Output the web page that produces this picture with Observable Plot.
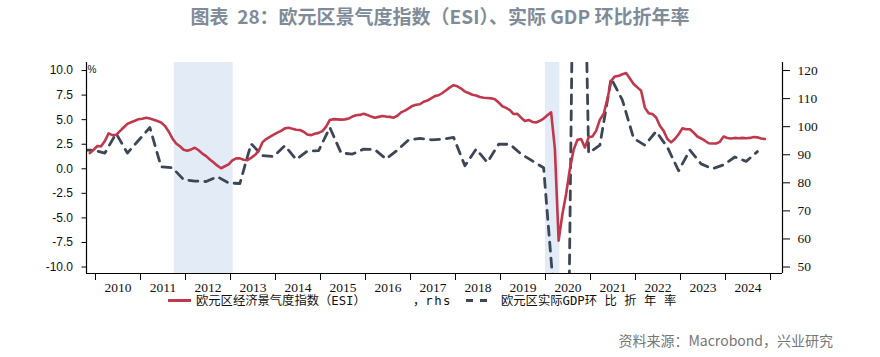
<!DOCTYPE html>
<html>
<head>
<meta charset="utf-8">
<script src="https://cdn.jsdelivr.net/npm/d3@7"></script>
<script src="https://cdn.jsdelivr.net/npm/@observablehq/plot@0.6"></script>
<style>
  html, body { margin: 0; padding: 0; background: #fff; }
  #page { position: relative; width: 880px; height: 357px; overflow: hidden; font-family: "Noto Sans CJK SC", sans-serif; }
  #title { position: absolute; left: 0; top: 0; width: 880px; height: 32px; line-height: 32px; text-align: center;
           font-size: 19px; font-weight: 700; color: #808b99; white-space: pre; }
  #chart { position: absolute; left: 0; top: 44px; }
  .lt { position: absolute; top: 292px; height: 18px; line-height: 18px; font-size: 12.3px; color: #111;
        font-family: "DejaVu Sans Mono", "Noto Sans CJK SC", monospace; white-space: pre; }
  .sw { position: absolute; height: 0; }
  #caption { position: absolute; right: 47px; top: 330px; line-height: 20px; font-size: 14px; color: #767676; }
</style>
</head>
<body>
<div id="page">
  <div id="title">图表  28：欧元区景气度指数（ESI）、实际 GDP 环比折年率</div>
  <div id="chart"></div>
  <span class="sw" style="left:168px; top:299px; width:23px; border-top:3px solid #c0384c;"></span>
  <span class="lt" style="left:196px;">欧元区经济景气度指数（ESI）</span>
  <span class="lt" style="left:413px;">，<span style="letter-spacing:1.5px">rhs</span></span>
  <span class="sw" style="left:466px; top:299px; width:7px; border-top:3px solid #3c4657;"></span>
  <span class="sw" style="left:480px; top:299px; width:7px; border-top:3px solid #3c4657;"></span>
  <span class="lt" style="left:501px;">欧元区实际GDP<span style="letter-spacing:7.5px">环比折年率</span></span>
  <div id="caption">资料来源：Macrobond，兴业研究</div>
</div>
<script>
// ---------- data ----------
// Euro area Economic Sentiment Indicator (right axis), monthly, from 2009-11 to 2024-11
const esiStart = "2009-11";
const esiValues = [
  90.6, 91.8,
  93.1, 93.0, 94.9, 97.6, 97.0, 97.1, 98.4, 99.7, 101.0, 101.6, 102.1, 102.7,
  102.8, 103.2, 102.9, 102.5, 102.0, 101.5, 100.3, 98.3, 95.8, 94.0, 93.0, 91.8,
  91.4, 91.9, 92.5, 91.6, 90.4, 89.5, 88.3, 87.2, 86.1, 85.2, 85.9, 86.6,
  88.0, 88.7, 88.7, 88.2, 88.1, 88.9, 89.9, 91.3, 94.4, 95.6, 96.4, 97.2,
  97.9, 98.5, 99.4, 99.6, 99.3, 98.9, 98.8, 98.2, 97.2, 97.0, 97.5, 97.8,
  98.4, 100.0, 102.4, 102.7, 102.6, 102.5, 102.6, 102.9, 103.6, 104.1, 104.2, 104.6,
  104.2, 103.6, 103.2, 103.5, 103.8, 103.6, 103.5, 103.2, 103.9, 105.1, 105.7, 106.5,
  107.4, 107.8, 108.0, 108.9, 109.3, 110.1, 110.9, 111.2, 112.0, 113.0, 114.0, 114.8,
  114.4, 113.6, 112.5, 112.0, 111.4, 111.1, 110.6, 110.3, 110.2, 110.1, 109.8, 108.6,
  107.3, 106.7, 105.9, 104.5, 104.6, 103.2, 102.0, 102.4, 101.7, 101.5, 102.1, 102.9,
  104.1, 105.1, 92.1, 59.4, 68.8, 76.0, 84.9, 91.8, 95.3, 95.6, 92.6, 96.2,
  96.5, 98.5, 102.5, 104.5, 109.8, 116.3, 117.9, 118.1, 118.7, 119.1, 117.2, 115.2,
  114.0, 112.8, 106.8, 104.8, 104.5, 103.3, 100.3, 98.5, 95.6, 94.4, 95.6, 97.3,
  99.4, 99.1, 99.1, 97.9, 96.5, 95.8, 95.0, 94.1, 94.0, 94.0, 94.6, 96.5,
  96.0, 95.8, 96.0, 95.9, 96.0, 95.9, 96.0, 96.3, 96.2, 95.8, 95.6
];
// Euro area real GDP, q/q annualised (%), left axis
const gdpQuarters = [
  "2009Q3","2009Q4",
  "2010Q1","2010Q2","2010Q3","2010Q4","2011Q1","2011Q2","2011Q3","2011Q4",
  "2012Q1","2012Q2","2012Q3","2012Q4","2013Q1","2013Q2","2013Q3","2013Q4",
  "2014Q1","2014Q2","2014Q3","2014Q4","2015Q1","2015Q2","2015Q3","2015Q4",
  "2016Q1","2016Q2","2016Q3","2016Q4","2017Q1","2017Q2","2017Q3","2017Q4",
  "2018Q1","2018Q2","2018Q3","2018Q4","2019Q1","2019Q2","2019Q3","2019Q4",
  "2020Q1","2020Q2","2020Q3","2020Q4","2021Q1","2021Q2","2021Q3","2021Q4",
  "2022Q1","2022Q2","2022Q3","2022Q4","2023Q1","2023Q2","2023Q3","2023Q4",
  "2024Q1","2024Q2","2024Q3"
];
const gdpValues = [
  1.9, 1.9,
  1.6, 3.6, 1.6, 2.9, 4.2, 0.2, 0.1, -1.1,
  -1.25, -1.3, -0.8, -1.45, -1.5, 2.55, 1.35, 1.25,
  2.35, 0.95, 1.8, 1.85, 4.2, 1.6, 1.5, 2.0,
  1.95, 1.0, 1.9, 2.95, 3.1, 2.95, 3.0, 3.2,
  0.3, 2.0, 0.65, 2.5, 2.5, 1.5, 0.8, 0.1,
  -14.0, -39.5, 60.0, 1.6, 2.4, 9.2, 7.0, 3.1,
  2.4, 3.8, 2.2, -0.2, 1.9, 0.5, 0.0, 0.4,
  1.2, 0.75, 1.75
];
// Recession shading periods (decimal years)
const recessionStart = [2011.75, 2020.0];
const recessionEnd = [2013.06, 2020.32];
// Axis ticks
const leftTicks = [-10, -7.5, -5, -2.5, 0, 2.5, 5, 7.5, 10];
const rightTicks = [50, 60, 70, 80, 90, 100, 110, 120];
const yearLabels = [2010, 2011, 2012, 2013, 2014, 2015, 2016, 2017, 2018, 2019, 2020, 2021, 2022, 2023, 2024];
const yearTicks = [2010, 2011, 2012, 2013, 2014, 2015, 2016, 2017, 2018, 2019, 2020, 2021, 2022, 2023, 2024, 2025];

// ---------- build tables ----------
const [sy, sm] = esiStart.split("-").map(Number);
const esi = esiValues.map((v, i) => {
  const mIdx = (sm - 1) + i;
  return { t: sy + (mIdx + 0.5) / 12, v };
});
const gdp = gdpQuarters.map((q, i) => {
  const y = +q.slice(0, 4), qq = +q.slice(5);
  return { t: y + (3 * qq - 0.5) / 12, v: gdpValues[i] };
});
const recessions = recessionStart.map((s, i) => ({ s, e: recessionEnd[i] }));

// right axis (ESI) mapped onto left scale
const toLeft = r => (r - 85) / 3.5;
const toRight = l => l * 3.5 + 85;

const xDomain = [2009.8, 2025.2667];
const yDomain = [-10.66, 10.82];

const chart = Plot.plot({
  width: 880,
  height: 249,
  marginLeft: 86,
  marginRight: 98,
  marginTop: 18,
  marginBottom: 20,
  style: { background: "transparent", overflow: "visible" },
  x: { type: "linear", domain: xDomain, axis: null },
  y: { domain: yDomain, axis: null },
  marks: [
    Plot.rect(recessions, { x1: "s", x2: "e", fill: "#e3ebf6" }),
    Plot.line(gdp, { x: "t", y: "v", stroke: "#3c4657", strokeWidth: 2.8, strokeDasharray: "9,7", clip: true }),
    Plot.line(esi, { x: "t", y: d => toLeft(d.v), stroke: "#c0384c", strokeWidth: 2.6, clip: true }),
    Plot.ruleX([xDomain[0]], { stroke: "#000", strokeWidth: 1.2 }),
    Plot.ruleX([xDomain[1]], { stroke: "#000", strokeWidth: 1.2 }),
    Plot.ruleY([yDomain[0]], { stroke: "#000", strokeWidth: 1.2 }),
    Plot.axisY({
      anchor: "left", ticks: leftTicks, tickFormat: d => d.toFixed(1),
      tickSize: 4.5, tickPadding: 9, label: null,
      fontSize: 12, fontFamily: "Liberation Sans", fill: "#111"
    }),
    Plot.axisY({
      anchor: "right", ticks: rightTicks.map(toLeft), tickFormat: d => String(Math.round(toRight(d))),
      tickSize: 7, tickPadding: 8, label: null,
      fontSize: 13.5, fontFamily: "Liberation Serif", fill: "#111"
    }),
    Plot.axisX({
      anchor: "bottom", ticks: yearTicks, tickFormat: () => "", tickSize: 7, label: null
    }),
    Plot.text(yearLabels, {
      x: d => d + 0.5, text: d => String(d), frameAnchor: "bottom", dy: 14,
      lineAnchor: "middle", fontSize: 13.5, fontFamily: "Liberation Serif", fill: "#111"
    }),
    Plot.text(["%"], {
      frameAnchor: "top-left", textAnchor: "start", lineAnchor: "middle",
      dx: 1, dy: 7, fontSize: 10, fontFamily: "Liberation Sans", fill: "#111"
    })
  ]
});
document.getElementById("chart").appendChild(chart);
</script>
</body>
</html>
